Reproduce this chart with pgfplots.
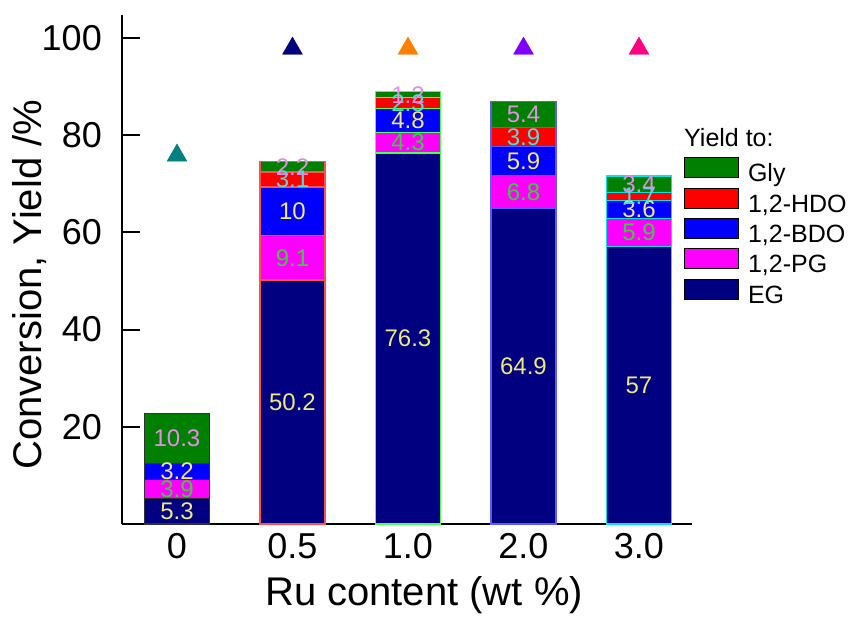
\documentclass[border=0pt]{standalone}
\usepackage{fontspec}
\setmainfont{Liberation Sans}
\setsansfont{Liberation Sans}
\usepackage{pgfplots}
\pgfplotsset{compat=1.18}
\definecolor{cGly}{RGB}{0,128,0}
\definecolor{cHDO}{RGB}{255,0,0}
\definecolor{cBDO}{RGB}{0,0,255}
\definecolor{cPG}{RGB}{255,0,255}
\definecolor{cEG}{RGB}{0,0,128}
\definecolor{lYellow}{RGB}{240,232,120}
\definecolor{lGreen}{RGB}{60,205,60}
\definecolor{lCyan}{RGB}{80,220,220}
\definecolor{lPink}{RGB}{232,140,232}
\definecolor{oA}{RGB}{50,50,50}
\definecolor{oB}{RGB}{255,80,80}
\definecolor{oC}{RGB}{80,255,80}
\definecolor{oD}{RGB}{90,90,255}
\definecolor{oE}{RGB}{0,230,230}
\definecolor{tA}{RGB}{0,128,128}
\definecolor{tB}{RGB}{0,0,128}
\definecolor{tC}{RGB}{255,128,0}
\definecolor{tD}{RGB}{128,0,255}
\definecolor{tE}{RGB}{255,0,128}
\pgfplotsset{
  common/.style={
    at={(0pt,0pt)}, anchor=south west,
    scale only axis, width=570pt, height=509pt,
    xmin=-0.476, xmax=4.459, ymin=0, ymax=104.7,
    clip=false,
  },
  lbl/.style={only marks, mark=*, mark size=0pt, mark options={draw=none, fill=none},
    nodes near coords, point meta=explicit symbolic,
    nodes near coords style={anchor=center, inner sep=0pt, text=#1, font=\fontsize{24}{24}\selectfont}},
  ol/.style={ybar, bar width=0.563, bar shift=0pt, fill=none, draw=#1, line width=1.2pt},
}
\begin{document}
\begin{tikzpicture}
\begin{axis}[common,
  ybar stacked, bar width=0.563,
  axis x line=bottom, axis y line=left,
  axis line style={-, line width=2pt, black},
  xtick={0,1,2,3,4}, xticklabels={0,0.5,1.0,2.0,3.0},
  x tick style={draw=none},
  ytick={20,40,60,80,100},
  y tick style={line width=2pt, black},
  major tick length=18pt,
  tick align=inside,
  /pgf/number format/assume math mode=true,
  tick label style={font=\fontsize{36}{36}\selectfont},
  yticklabel style={inner sep=0pt, xshift=-20pt},
  xticklabel style={inner sep=0pt, anchor=north, yshift=-9pt},
  xlabel={Ru content (wt \%)},
  xlabel style={at={(axis description cs:0.53,-0.139)}, anchor=center, inner sep=0pt, font=\fontsize{40}{40}\selectfont},
  ylabel={Conversion, Yield /\%},
  ylabel style={at={(axis description cs:-0.163,0.47)}, anchor=center, inner sep=0pt, font=\fontsize{40}{40}\selectfont},
  reverse legend,
  legend cell align=left,
  legend image code/.code={\draw[#1, draw=black, line width=0.8pt] (0pt,-2pt) rectangle (54pt,18pt);},
  legend style={at={(axis description cs:0.986,0.721)}, anchor=north west, draw=none, fill=none,
    inner sep=0pt, row sep=1pt, column sep=9pt, font=\fontsize{25}{25}\selectfont,
    nodes={inner sep=0pt, text height=17pt, text depth=5pt}},
]
\addplot[fill=cEG, draw=none] coordinates {(0,5.3) (1,50.2) (2,76.3) (3,64.9) (4,57)};
\addlegendentry{EG}
\addplot[fill=cPG, draw=none] coordinates {(0,3.9) (1,9.1) (2,4.3) (3,6.8) (4,5.9)};
\addlegendentry{1,2-PG}
\addplot[fill=cBDO, draw=none] coordinates {(0,3.2) (1,10) (2,4.8) (3,5.9) (4,3.6)};
\addlegendentry{1,2-BDO}
\addplot[fill=cHDO, draw=none] coordinates {(0,0) (1,3.1) (2,2.3) (3,3.9) (4,1.7)};
\addlegendentry{1,2-HDO}
\addplot[fill=cGly, draw=none] coordinates {(0,10.3) (1,2.2) (2,1.2) (3,5.4) (4,3.4)};
\addlegendentry{Gly}
\node[anchor=west, inner sep=0pt, font=\fontsize{25}{25}\selectfont] at (axis description cs:0.986,0.760) {Yield to:};
\end{axis}
\begin{axis}[common, hide axis]
% outlines of each bar (tops of the stacked segments)
\addplot[ol=oA] coordinates {(0,5.3) (0,9.2) (0,12.4) (0,22.7)};
\addplot[ol=oB] coordinates {(1,50.2) (1,59.3) (1,69.3) (1,72.4) (1,74.6)};
\addplot[ol=oC] coordinates {(2,76.3) (2,80.6) (2,85.4) (2,87.7) (2,88.9)};
\addplot[ol=oD] coordinates {(3,64.9) (3,71.7) (3,77.6) (3,81.5) (3,86.9)};
\addplot[ol=oE] coordinates {(4,57) (4,62.9) (4,66.5) (4,68.2) (4,71.6)};
% conversion
\addplot[scatter, only marks, mark=triangle*, mark size=11.5pt, point meta=explicit symbolic,
  scatter/classes={a={mark=triangle*, fill=tA, draw=tA}, b={mark=triangle*, fill=tB, draw=tB},
  c={mark=triangle*, fill=tC, draw=tC}, d={mark=triangle*, fill=tD, draw=tD}, e={mark=triangle*, fill=tE, draw=tE}}]
  table[meta=c] {
x y c
0 75.8 a
1 97.8 b
2 97.8 c
3 97.8 d
4 97.8 e
};
% value labels
\addplot[lbl=lYellow] table[meta=l] {
x y l
0 2.65 5.3
1 25.1 50.2
2 38.15 76.3
3 32.45 64.9
4 28.5 57
};
\addplot[lbl=lGreen] table[meta=l] {
x y l
0 7.25 3.9
1 54.75 9.1
2 78.45 4.3
3 68.3 6.8
4 59.95 5.9
};
\addplot[lbl=lYellow] table[meta=l] {
x y l
0 10.8 3.2
1 64.3 10
2 83.0 4.8
3 74.65 5.9
4 64.7 3.6
};
\addplot[lbl=lCyan] table[meta=l] {
x y l
1 70.85 3.1
2 86.55 2.3
3 79.55 3.9
4 67.35 1.7
};
\addplot[lbl=lPink] table[meta=l] {
x y l
0 17.55 10.3
1 73.5 2.2
2 88.3 1.2
3 84.2 5.4
4 69.9 3.4
};
\end{axis}
\pgfresetboundingbox
\path (-122pt,-95pt) rectangle (726pt,524pt);
\end{tikzpicture}
\end{document}
